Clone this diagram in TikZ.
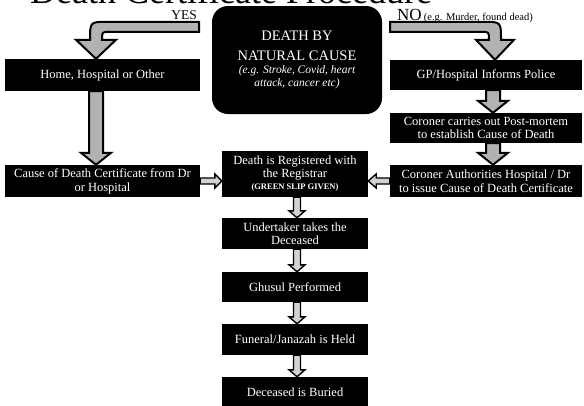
\documentclass[tikz,border=0pt]{standalone}
\usepackage{fontspec}
\setmainfont{Liberation Serif}
\usetikzlibrary{calc}
\tikzset{
  blackbox/.style={fill=black, text=white, inner sep=0pt, align=center,
    font=\fontsize{12.5}{14}\selectfont},
  fatarrow/.style={fill=gray!60, draw=black, line width=2pt, line join=miter},
  thinarrow/.style={fill=gray!35, draw=black, line width=1.4pt, line join=miter},
}
% vertical fat arrow: #1 start (top), #2 tip (bottom)
\newcommand\fatv[2]{%
  \draw[fatarrow] let \p1=(#1), \p2=(#2) in
    (\x2-7pt,\y1) -- (\x2-7pt,\y2+12pt) -- (\x2-15pt,\y2+12pt) -- (\x2,\y2)
    -- (\x2+15pt,\y2+12pt) -- (\x2+7pt,\y2+12pt) -- (\x2+7pt,\y1) -- cycle;}
% vertical thin arrow
\newcommand\thinv[2]{%
  \draw[thinarrow] let \p1=(#1), \p2=(#2) in
    (\x2-3.5pt,\y1) -- (\x2-3.5pt,\y2+7pt) -- (\x2-8pt,\y2+7pt) -- (\x2,\y2)
    -- (\x2+8pt,\y2+7pt) -- (\x2+3.5pt,\y2+7pt) -- (\x2+3.5pt,\y1) -- cycle;}
% horizontal thin arrow pointing right
\newcommand\thinr[2]{%
  \draw[thinarrow] let \p1=(#1), \p2=(#2) in
    (\x1,\y2+3pt) -- (\x2-7pt,\y2+3pt) -- (\x2-7pt,\y2+7pt) -- (\x2,\y2)
    -- (\x2-7pt,\y2-7pt) -- (\x2-7pt,\y2-3pt) -- (\x1,\y2-3pt) -- cycle;}
% horizontal thin arrow pointing left
\newcommand\thinl[2]{%
  \draw[thinarrow] let \p1=(#1), \p2=(#2) in
    (\x1,\y2+3pt) -- (\x2+8pt,\y2+3pt) -- (\x2+8pt,\y2+7pt) -- (\x2,\y2)
    -- (\x2+8pt,\y2-7pt) -- (\x2+8pt,\y2-3pt) -- (\x1,\y2-3pt) -- cycle;}
\begin{document}
\begin{tikzpicture}[x=1pt,y=-1pt]
\useasboundingbox[fill=white] (0,0) rectangle (584,405);

% title
\node[anchor=base west, inner sep=0pt, font=\fontsize{36}{40}\selectfont] (title) at (30,3.5) {Death Certificate Procedure};

% central rounded box
\node[fill=black, text=white, rounded corners=16pt, minimum width=170pt, minimum height=108pt, inner sep=0pt, align=center,
      font=\fontsize{14.5}{20}\selectfont] (nat) at (297,60)
  {DEATH BY\\NATURAL CAUSE\\[-7pt]
   {\fontsize{11.5}{12}\selectfont\itshape (e.g. Stroke, Covid, heart}\\[-7pt]
   {\fontsize{11.5}{12}\selectfont\itshape attack, cancer etc)}};

% left column
\node[blackbox, minimum width=195pt, minimum height=32pt] (home) at (102.5,75) {Home, Hospital or Other};
\node[blackbox, minimum width=195pt, minimum height=32pt] (cause) at (102.5,181) {Cause of Death Certificate from Dr\\or Hospital};

% right column
\node[blackbox, minimum width=192pt, minimum height=30pt] (gp) at (486,75) {GP/Hospital Informs Police};
\node[blackbox, minimum width=192pt, minimum height=30pt, font=\fontsize{12.5}{13}\selectfont] (pm) at (486,128) {Coroner carries out Post-mortem\\to establish Cause of Death};
\node[blackbox, minimum width=192pt, minimum height=32pt] (ca) at (486,181) {Coroner Authorities Hospital / Dr\\to issue Cause of Death Certificate};

% centre column
\node[blackbox, minimum width=146pt, minimum height=46pt, font=\fontsize{12.5}{12.5}\selectfont] (reg) at (295,174)
  {Death is Registered with\\the Registrar\\ {\fontsize{8.5}{9}\selectfont\bfseries (GREEN SLIP GIVEN)}};
\node[blackbox, minimum width=146pt, minimum height=31pt, font=\fontsize{12.5}{13}\selectfont] (und) at (295,233.5) {Undertaker takes the\\Deceased};
\node[blackbox, minimum width=146pt, minimum height=30pt] (ghu) at (295,287) {Ghusul Performed};
\node[blackbox, minimum width=146pt, minimum height=31pt] (fun) at (295,339.5) {Funeral/Janazah is Held};
\node[blackbox, minimum width=146pt, minimum height=30pt] (bur) at (295,392) {Deceased is Buried};

% labels
\node[anchor=base east, inner sep=0pt, font=\fontsize{13.5}{15}\selectfont] (yes) at (197,19) {YES};
\node[anchor=base west, inner sep=0pt, font=\fontsize{17}{18}\selectfont] (no) at (397,20) {NO};
\node[anchor=base west, inner sep=0pt, font=\fontsize{10.5}{11}\selectfont] (noex) at (no.base east) {\,(e.g. Murder, found dead)};

% bent YES arrow
\begin{scope}[shift={($(home.north)+(-6.5,0)$)}]
  \draw[fatarrow] (103,-37) -- (12,-37) .. controls (-6,-37) .. (-6,-19)
    -- (-20,-19) -- (0,0) -- (20,-19) -- (6,-19) .. controls (6,-27) .. (14,-27)
    -- (103,-27) -- cycle;
\end{scope}
% bent NO arrow
\begin{scope}[shift={($(gp.north)+(9,0)$)}]
  \draw[fatarrow] (-105,-38) -- (-12,-38) .. controls (6,-38) .. (6,-20)
    -- (19,-20) -- (0,0) -- (-19,-20) -- (-6,-20) .. controls (-6,-28) .. (-14,-28)
    -- (-105,-28) -- cycle;
\end{scope}

% fat vertical arrows
\fatv{$(home.south)+(-6.5,0)$}{$(cause.north)+(-6.5,0)$}
\fatv{$(gp.south)+(7,0)$}{$(pm.north)+(7,0)$}
\fatv{$(pm.south)+(7,0)$}{$(ca.north)+(7,0)$}

% thin arrows
\thinr{cause.east}{cause.east -| reg.west}
\thinl{ca.west}{ca.west -| reg.east}
\thinv{$(reg.south)+(2,0)$}{$(und.north)+(2,0)$}
\thinv{$(und.south)+(2,0)$}{$(ghu.north)+(2,0)$}
\thinv{$(ghu.south)+(2,0)$}{$(fun.north)+(2,0)$}
\thinv{$(fun.south)+(2,0)$}{$(bur.north)+(2,0)$}
\end{tikzpicture}
\end{document}
